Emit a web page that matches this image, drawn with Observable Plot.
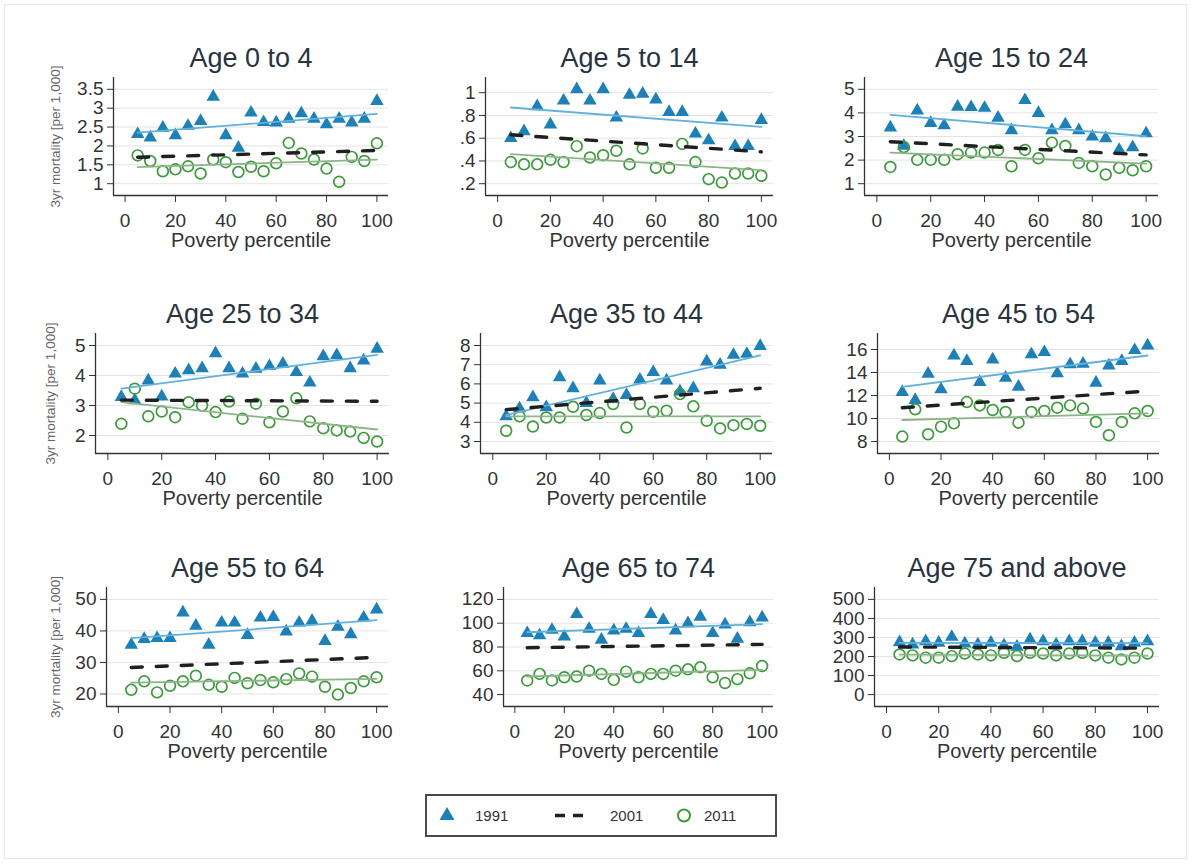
<!DOCTYPE html>
<html><head><meta charset="utf-8">
<script src="https://cdn.jsdelivr.net/npm/d3@7"></script>
<script src="https://cdn.jsdelivr.net/npm/@observablehq/plot@0.6"></script>
<style>
body{margin:0;background:#fff;}
#chart{position:relative;width:1193px;height:865px;background:#fff;font-family:"Liberation Sans",Arial,sans-serif;overflow:hidden}
#border{position:absolute;left:4px;top:4px;width:1183px;height:855px;border:1px solid #e6e6e6;box-sizing:border-box}
.panel{position:absolute}
#legend{position:absolute;left:425px;top:794px;width:352px;height:43px;border:2px solid #4a4a4a;box-sizing:border-box;background:#fff}
#legend span{position:absolute;top:11px;font-size:15px;color:#333}
#legend svg{position:absolute;top:0;left:0}
</style></head><body>
<div id="chart"><div id="border"></div></div>
<script>
// ---- data ----
const percentiles = [5,10,15,20,25,30,35,40,45,50,55,60,65,70,75,80,85,90,95,100];
const xTicks = [0,20,40,60,80,100];
const titles = ["Age 0 to 4","Age 5 to 14","Age 15 to 24","Age 25 to 34","Age 35 to 44","Age 45 to 54","Age 55 to 64","Age 65 to 74","Age 75 and above"];
const yTicks = [
  [1,1.5,2,2.5,3,3.5],
  [0.2,0.4,0.6,0.8,1],
  [1,2,3,4,5],
  [2,3,4,5],
  [3,4,5,6,7,8],
  [8,10,12,14,16],
  [20,30,40,50],
  [40,60,80,100,120],
  [0,100,200,300,400,500]
];
const y1991 = [
  [2.31,2.22,2.48,2.28,2.53,2.66,3.30,2.28,1.95,2.88,2.63,2.62,2.72,2.86,2.72,2.57,2.72,2.62,2.72,3.19],
  [0.60,0.66,0.88,0.72,0.93,1.03,0.93,1.03,0.78,0.98,0.99,0.94,0.83,0.83,0.64,0.58,0.78,0.53,0.53,0.76],
  [3.38,2.60,4.10,3.57,3.47,4.26,4.24,4.21,3.79,3.26,4.54,3.99,3.26,3.51,3.26,2.99,2.92,2.43,2.54,3.13],
  [3.28,3.17,3.83,3.30,4.06,4.17,4.24,4.74,4.24,4.06,4.22,4.31,4.39,4.11,3.76,4.64,4.67,4.24,4.50,4.89],
  [4.31,4.72,5.30,4.78,6.34,5.77,5.00,6.17,5.21,5.42,6.22,6.61,6.17,5.60,5.77,7.16,6.99,7.51,7.56,7.97],
  [12.30,11.61,13.89,12.53,15.48,14.99,13.17,15.13,13.54,12.76,15.57,15.77,13.92,14.70,14.76,13.11,14.61,14.99,15.94,16.35],
  [35.6,37.4,37.7,37.7,45.8,41.6,35.6,42.6,42.6,38.7,44.2,44.4,39.8,42.6,43.2,36.8,41.3,38.9,44.2,46.8],
  [91.6,89.7,94.3,88.8,107.6,95.2,86.1,93.8,95.2,91.6,107.6,102.6,93.8,99.9,105.4,91.6,98.8,86.9,100.7,104.8],
  [275,263,280,272,303,268,263,272,258,251,289,280,263,280,280,272,272,254,272,280]
];
const y2011 = [
  [1.75,1.60,1.33,1.38,1.46,1.27,1.64,1.57,1.31,1.45,1.33,1.54,2.08,1.80,1.64,1.40,1.05,1.71,1.60,2.07],
  [0.39,0.37,0.37,0.41,0.39,0.53,0.43,0.45,0.49,0.37,0.51,0.34,0.34,0.55,0.39,0.24,0.21,0.29,0.29,0.27],
  [1.71,2.55,2.01,2.01,2.01,2.25,2.32,2.32,2.43,1.74,2.43,2.08,2.74,2.60,1.88,1.74,1.39,1.67,1.57,1.74],
  [2.39,3.56,2.64,2.80,2.61,3.11,3.00,2.78,3.13,2.56,3.06,2.44,2.80,3.24,2.47,2.24,2.17,2.13,1.92,1.80],
  [3.56,4.31,3.78,4.25,4.25,4.81,4.38,4.48,4.95,3.73,4.95,4.55,4.60,5.47,4.83,4.08,3.68,3.85,3.91,3.82],
  [8.43,10.80,8.63,9.29,9.58,11.43,11.14,10.74,10.57,9.64,10.57,10.65,10.94,11.14,10.86,9.70,8.54,9.70,10.45,10.65],
  [21.3,24.0,20.5,22.6,24.0,25.8,22.9,22.3,25.1,23.4,24.4,23.7,24.7,26.5,25.5,22.3,19.8,21.9,24.0,25.3],
  [51.9,57.4,51.9,54.6,55.2,60.1,57.4,52.4,59.3,54.6,57.4,57.4,60.1,61.2,62.9,54.6,49.7,53.0,57.9,64.0],
  [211,206,194,194,202,216,211,206,220,202,220,216,206,216,220,206,194,185,194,216]
];
// fitted lines: value at percentile 5 and at percentile 100
const fitEnds = [5, 100];
const fit1991 = [[2.35,2.85],[0.87,0.70],[3.92,3.01],[3.56,4.69],[4.38,7.48],[12.76,15.48],[37.7,43.4],[92.4,99.3],[272,270]];
const fit2001 = [[1.70,1.88],[0.63,0.48],[2.78,2.22],[3.18,3.14],[4.66,5.77],[10.94,12.39],[28.4,31.6],[79.4,82.2],[250,244]];
const fit2011 = [[1.44,1.64],[0.46,0.32],[2.32,1.85],[3.11,2.20],[4.31,4.31],[9.87,10.45],[23.6,24.8],[55.2,60.7],[210,205]];
const yTitle = "3yr mortality [per 1,000]";
const xTitle = "Poverty percentile";
const legendLabels = ["1991","2001","2011"];

// ---- layout ----
const frames = [
  {l:113,r:388,t:77,b:195,yl:55},
  {l:485,r:773,t:77,b:195},
  {l:864,r:1158,t:77,b:195},
  {l:95,r:389,t:333,b:453,yl:50},
  {l:480,r:772,t:333,b:453},
  {l:877,r:1159,t:333,b:453},
  {l:106,r:388,t:587,b:706,yl:55},
  {l:503,r:773,t:587,b:706},
  {l:874,r:1159,t:587,b:706}
];
const mL = 80, mR = 12, mT = 56, mB = 62;
const xDomain = [-4.6, 104.6];
const C91 = "#1c80b9", C91fit = "#62b0dc", C01 = "#202020", C11 = "#3b9c3b", C11fit = "#8db489";
const font = '"Liberation Sans", Arial, sans-serif';
const fmt = d => { const s = String(d); return s.startsWith("0.") ? s.slice(1) : s; };

const chart = document.getElementById("chart");
titles.forEach((title, i) => {
  const f = frames[i];
  const pts = percentiles.map((p, j) => ({p, v91: y1991[i][j], v11: y2011[i][j]}));
  const line = arr => fitEnds.map((p, k) => ({p, v: arr[i][k]}));
  const all = [...yTicks[i], ...y1991[i], ...y2011[i]];
  const lo = Math.min(...all), hi = Math.max(...all), pad = 0.125 * (hi - lo);
  const yDomain = [lo - pad, hi + pad];
  const marks = [
    Plot.gridY(yTicks[i], {stroke: "#e4e4e4", strokeOpacity: 1, strokeWidth: 1}),
    Plot.ruleX([xDomain[0]], {stroke: "#333", strokeWidth: 1.3}),
    Plot.ruleY([yDomain[0]], {stroke: "#333", strokeWidth: 1.3}),
    Plot.axisX(xTicks, {tickSize: 7, tickPadding: 11, label: null, fill: "#333", stroke: "#333"}),
    Plot.axisY(yTicks[i], {tickSize: 6, tickPadding: 4, label: null, tickFormat: fmt, fill: "#333", stroke: "#333"}),
    Plot.dot(pts, {x: "p", y: "v91", symbol: "triangle", r: 5, fill: C91, stroke: "none"}),
    Plot.dot(pts, {x: "p", y: "v11", symbol: "circle", r: 5.4, fill: "none", stroke: C11, strokeWidth: 1.7}),
    Plot.line(line(fit1991), {x: "p", y: "v", stroke: C91fit, strokeWidth: 1.8}),
    Plot.line(line(fit2011), {x: "p", y: "v", stroke: C11fit, strokeWidth: 1.8}),
    Plot.line(line(fit2001), {x: "p", y: "v", stroke: C01, strokeWidth: 3.4, strokeDasharray: "11,14"}),
    Plot.text([title], {text: d => d, frameAnchor: "top", lineAnchor: "middle", dy: -19, fontSize: 27, fill: "#283440"}),
    Plot.text([xTitle], {text: d => d, frameAnchor: "bottom", lineAnchor: "middle", dy: 45, fontSize: 20, fill: "#333"})
  ];
  if (f.yl !== undefined) {
    marks.push(Plot.text([yTitle], {text: d => d, frameAnchor: "left", textAnchor: "middle", lineAnchor: "middle", rotate: -90, dx: f.yl - f.l, fontSize: 13.5, fill: "#666"}));
  }
  const svg = Plot.plot({
    width: f.r - f.l + mL + mR,
    height: f.b - f.t + mT + mB,
    marginLeft: mL, marginRight: mR, marginTop: mT, marginBottom: mB,
    style: {fontFamily: font, fontSize: "19px", color: "#333", background: "transparent", overflow: "visible"},
    x: {domain: xDomain},
    y: {domain: yDomain},
    marks
  });
  svg.classList.add("panel");
  svg.style.left = (f.l - mL) + "px";
  svg.style.top = (f.t - mT) + "px";
  chart.appendChild(svg);
});

// ---- legend ----
const legend = document.createElement("div");
legend.id = "legend";
legend.innerHTML = `
<svg width="348" height="39">
  <path d="M20,11 L27.5,24 L12.5,24 Z" fill="${C91}"/>
  <line x1="128" y1="19.5" x2="158" y2="19.5" stroke="${C01}" stroke-width="3.4" stroke-dasharray="10,8"/>
  <circle cx="257" cy="19.5" r="6" fill="none" stroke="${C11}" stroke-width="2"/>
</svg>
<span style="left:48px">${legendLabels[0]}</span>
<span style="left:183px">${legendLabels[1]}</span>
<span style="left:277px">${legendLabels[2]}</span>`;
chart.appendChild(legend);
</script>
</body></html>
